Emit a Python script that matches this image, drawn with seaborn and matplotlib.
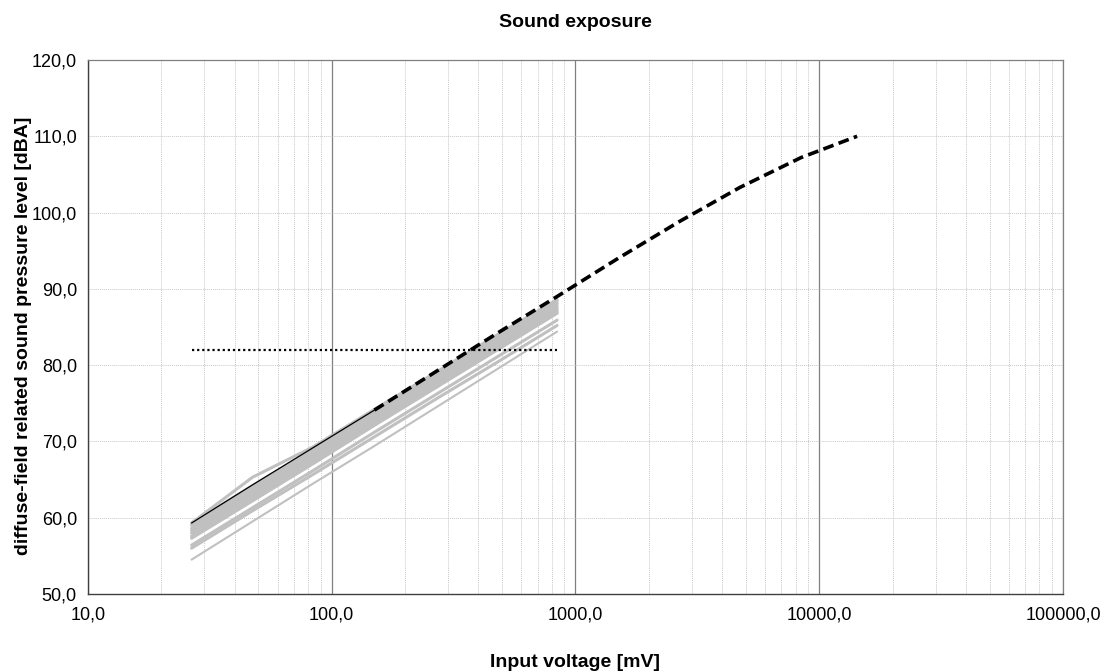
import numpy as np
import seaborn as sns
import matplotlib.pyplot as plt
from matplotlib.ticker import FuncFormatter, LogLocator, MultipleLocator

# Measurement input voltages [mV]
voltage = [26.6, 47.3, 84.1, 149.6, 266, 473, 841]

# Measured sound pressure levels of the individual devices [dBA]
gray_series = [
    [59.3, 65.3, 69.3, 74.2, 79.0, 83.9, 88.6],
    [59.3, 64.2, 69.0, 73.9, 78.7, 83.6, 88.4],
    [59.0, 63.9, 68.7, 73.6, 78.4, 83.3, 88.1],
    [58.6, 63.5, 68.3, 73.2, 78.1, 82.9, 87.8],
    [58.3, 63.2, 68.0, 72.9, 77.8, 82.6, 87.5],
    [58.0, 62.9, 67.7, 72.6, 77.5, 82.3, 87.2],
    [57.6, 62.5, 67.4, 72.3, 77.2, 82.1, 87.0],
    [57.3, 62.2, 67.1, 72.1, 77.0, 81.9, 86.8],
    [56.4, 61.3, 66.2, 71.2, 76.1, 81.0, 85.9],
    [56.0, 60.9, 65.7, 70.6, 75.5, 80.3, 85.2],
]
low_series = [54.5, 59.5, 64.5, 69.4, 74.4, 79.4, 84.4]

# Reference curve (thin solid part, then extrapolated dashed part)
ref_voltage = [26.6, 47.3, 84.1, 149.6]
ref_level = [59.3, 64.3, 69.2, 74.1]

ext_voltage = [149.6, 266, 473, 841, 1496, 2660, 4730, 8410, 14300]
ext_level = [74.1, 79.1, 84.1, 89.0, 94.0, 98.8, 103.3, 107.2, 110.0]

# Exposure limit
limit_voltage = [26.6, 841]
limit_level = [82.0, 82.0]

sns.set_style("white", {'text.color': 'black', 'axes.labelcolor': 'black',
                        'xtick.color': 'black', 'ytick.color': 'black'})
plt.rcParams['font.family'] = ['Liberation Sans', 'DejaVu Sans']

fig = plt.figure(figsize=(11.11, 6.71), dpi=100)
ax = fig.add_axes([0.0792, 0.1148, 0.8776, 0.7958])

for s in gray_series:
    sns.lineplot(x=voltage, y=s, ax=ax, color='#c0c0c0', linewidth=2.2)
sns.lineplot(x=voltage, y=low_series, ax=ax, color='#c0c0c0', linewidth=1.5)

sns.lineplot(x=ref_voltage, y=ref_level, ax=ax, color='black', linewidth=0.9)
sns.lineplot(x=limit_voltage, y=limit_level, ax=ax, color='black',
             linewidth=1.6, linestyle=(0, (1, 1.3)))
sns.lineplot(x=ext_voltage, y=ext_level, ax=ax, color='black',
             linewidth=2.6, linestyle=(0, (3, 1.5)))

ax.set_xscale('log')
ax.set_xlim(10, 100000)
ax.set_ylim(50, 120)
ax.yaxis.set_major_locator(MultipleLocator(10))
ax.xaxis.set_major_locator(LogLocator(base=10))
ax.xaxis.set_minor_locator(LogLocator(base=10, subs=np.arange(2, 10)))

fmt = FuncFormatter(lambda v, p: f"{v:.1f}".replace('.', ','))
ax.xaxis.set_major_formatter(fmt)
ax.yaxis.set_major_formatter(fmt)
ax.xaxis.set_minor_formatter(FuncFormatter(lambda v, p: ''))

ax.grid(True, which='major', axis='x', color='#808080', linewidth=0.9, linestyle='-')
ax.grid(True, which='minor', axis='x', color='#c8c8c8', linewidth=0.7, linestyle=(0, (1, 1)))
ax.grid(True, which='major', axis='y', color='#c8c8c8', linewidth=0.7, linestyle=(0, (1, 1)))
ax.set_axisbelow(True)

for side in ['top', 'right']:
    ax.spines[side].set_color('#808080')
    ax.spines[side].set_linewidth(0.9)
for side in ['left', 'bottom']:
    ax.spines[side].set_color('#404040')
    ax.spines[side].set_linewidth(1.0)

ax.tick_params(axis='both', which='major', direction='out', length=4,
               width=0.8, color='#404040', labelcolor='black', labelsize=13)
ax.tick_params(axis='y', which='major', pad=4)
ax.tick_params(axis='x', which='major', pad=5)
ax.tick_params(axis='x', which='minor', length=0)

ax.set_title('Sound exposure', fontsize=14, fontweight='bold', y=1.062, pad=0,
             color='black')
ax.set_xlabel('Input voltage [mV]', fontsize=14, fontweight='bold', color='black')
ax.set_ylabel('diffuse-field related sound pressure level [dBA]', fontsize=14,
              fontweight='bold', color='black')
ax.xaxis.set_label_coords(0.5, -0.113)
ax.yaxis.set_label_coords(-0.0574, 0.483)

fig.savefig('out.png', dpi=100)
